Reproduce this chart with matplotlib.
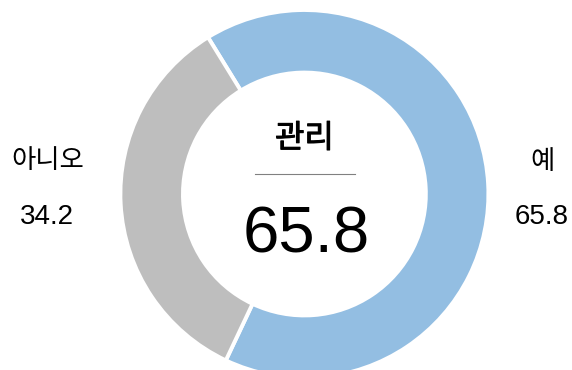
import matplotlib
matplotlib.use("Agg")
import matplotlib.pyplot as plt
import matplotlib.patheffects as pe

categories = ["예", "아니오"]
values = [65.8, 34.2]
colors = ["#93BEE2", "#BEBEBE"]
center_title = "관리"
center_value = values[0]

W, H = 572, 370
fig = plt.figure(figsize=(W / 100, H / 100), dpi=100)
ax = fig.add_axes([0, 0, 1, 1])
ax.set_aspect("equal")
ax.axis("off")

cx, cy = 304.4, H - 194
R = 184
ax.pie(values, colors=colors, startangle=121.6, counterclock=False,
       center=(cx, cy), radius=R,
       wedgeprops=dict(width=R * 0.34, edgecolor="white", linewidth=2.8))
ax.set_xlim(0, W)
ax.set_ylim(0, H)

kr = ["Noto Sans CJK KR", "DejaVu Sans"]
num = ["Liberation Sans", "Noto Sans CJK KR"]

ax.text(cx, H - 138.5, center_title, ha="center", va="center", fontsize=23,
        family=kr, path_effects=[pe.withStroke(linewidth=0.7, foreground="black")])
ax.plot([255, 355], [H - 174, H - 174], color="#808080", lw=0.8)
ax.text(cx + 2, H - 252.3, f"{center_value:.1f}", ha="center", va="baseline",
        fontsize=47, family=num)

# side labels
ax.text(47.5, H - 161, categories[1], ha="center", va="center", fontsize=19, family=kr)
ax.text(47, H - 224.5, f"{values[1]:.1f}", ha="center", va="baseline", fontsize=20, family=num)
ax.text(543, H - 161.5, categories[0], ha="center", va="center", fontsize=19, family=kr)
ax.text(542, H - 224.5, f"{values[0]:.1f}", ha="center", va="baseline", fontsize=20, family=num)

fig.savefig("out.png", dpi=100)
